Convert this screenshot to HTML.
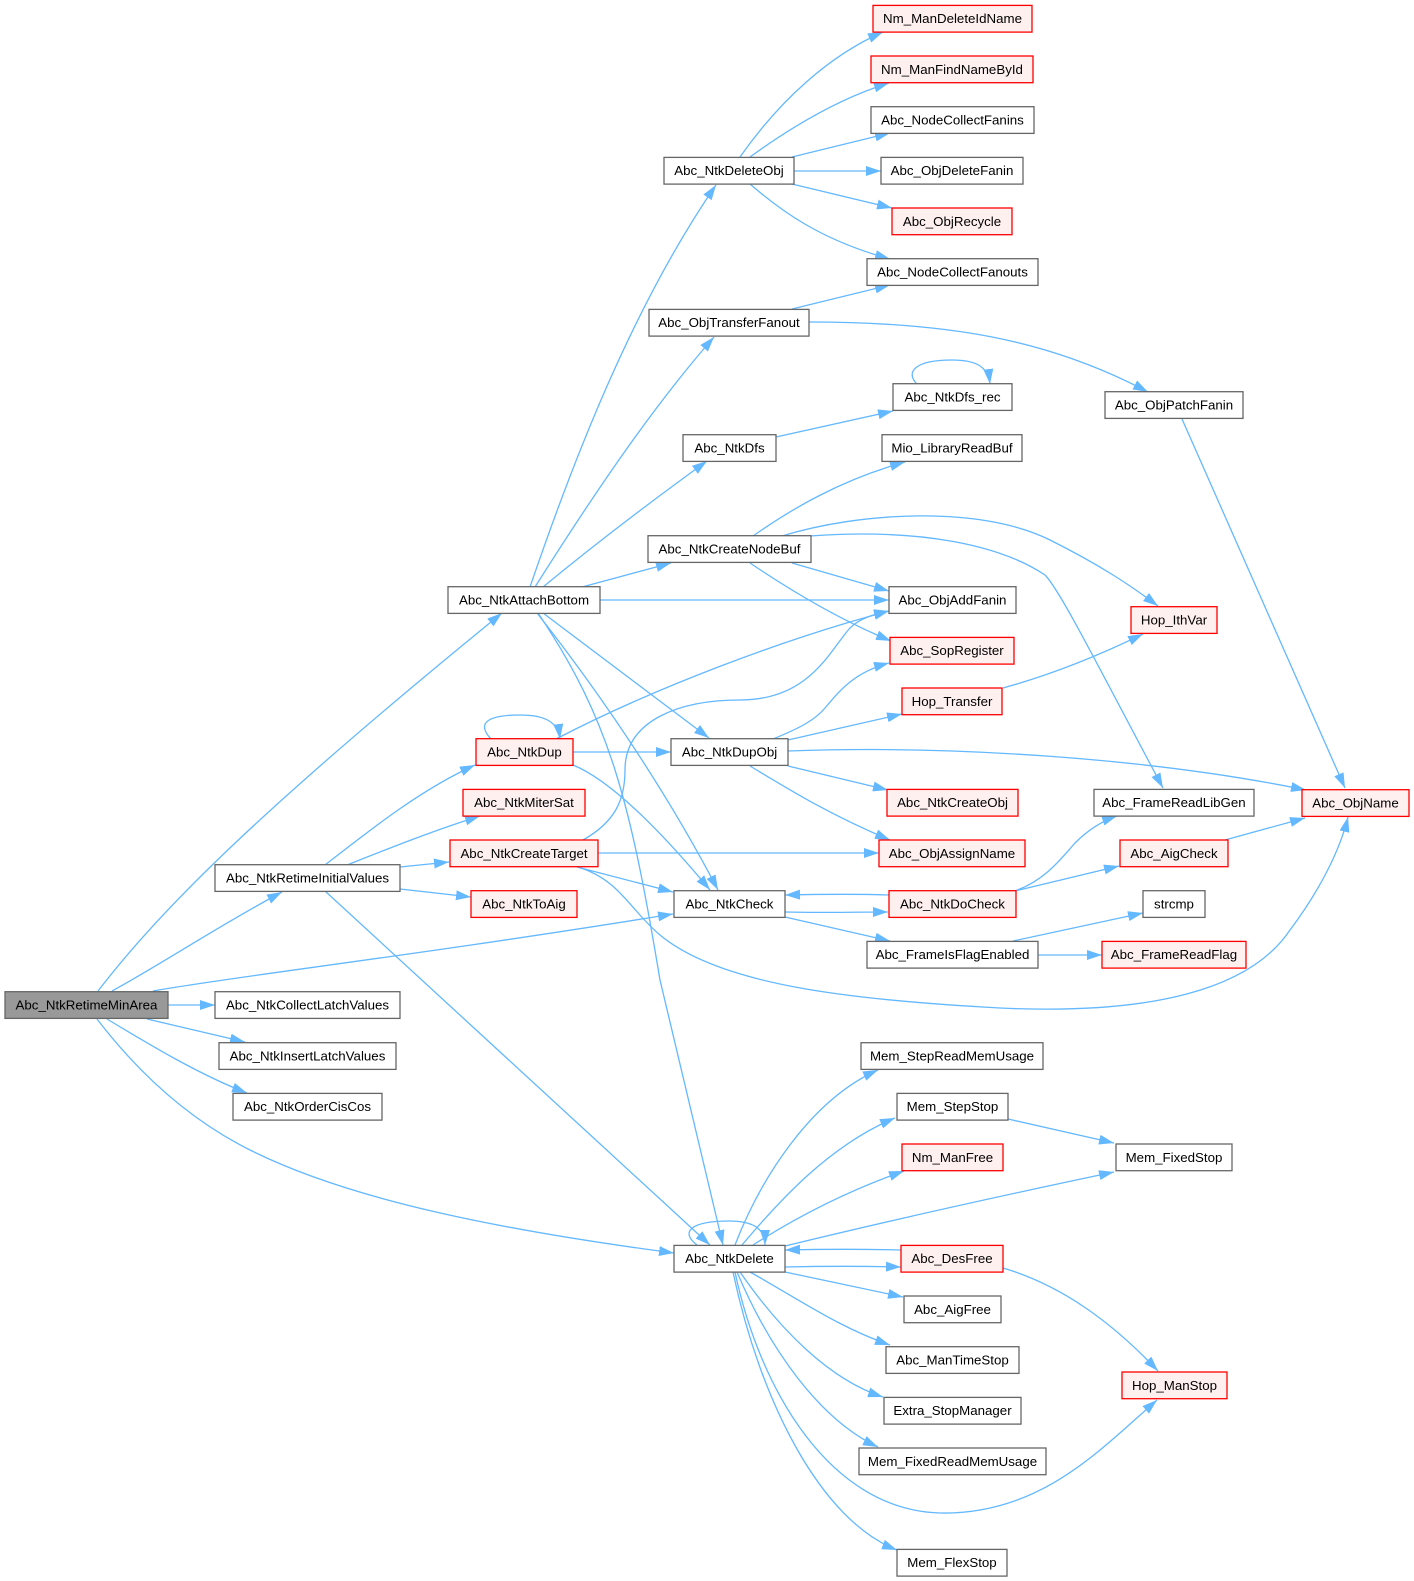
<!DOCTYPE html>
<html><head><meta charset="utf-8"><style>
html,body{margin:0;padding:0;background:#fff;}
svg{display:block;}
text{font-family:"Liberation Sans",Arial,sans-serif;font-size:13.3px;fill:#000;}
.n{fill:#fff;stroke:#666;stroke-width:1.3;}
.r{fill:#fff0f0;stroke:#ff0000;stroke-width:1.3;}
.g{fill:#999;stroke:#666;stroke-width:1.3;}
.e{fill:none;stroke:#63b8ff;stroke-width:1.3;}
</style></head><body>
<svg width="1414" height="1581" viewBox="0 0 1414 1581" xmlns="http://www.w3.org/2000/svg">
<defs><marker id="a" markerUnits="userSpaceOnUse" markerWidth="15" markerHeight="10" refX="15" refY="5" orient="auto"><path d="M0,0 L15,5 L0,10 z" fill="#63b8ff"/></marker></defs>
<g marker-end="url(#a)">
<!-- RMA -->
<path class="e" d="M98,991 C160,910 260,810 502,613"/>
<path class="e" d="M112,991 C160,965 220,925 282,892"/>
<path class="e" d="M153,991 C230,977 420,955 673,914"/>
<path class="e" d="M168,1005 L215,1005"/>
<path class="e" d="M147,1019 L245,1042"/>
<path class="e" d="M107,1019 C150,1045 200,1075 247,1093"/>
<path class="e" d="M97,1019 C140,1075 190,1120 250,1150 C350,1200 500,1230 674,1253"/>
<!-- RIV -->
<path class="e" d="M325,865 C370,830 420,790 475,765"/>
<path class="e" d="M347,865 C390,848 435,830 480,816"/>
<path class="e" d="M400,867 L449,862"/>
<path class="e" d="M400,889 L471,897"/>
<path class="e" d="M325,891 L710,1245"/>
<!-- AttachBottom -->
<path class="e" d="M530,587 C570,470 630,310 716,185"/>
<path class="e" d="M535,587 C590,500 650,410 714,337"/>
<path class="e" d="M543,587 C600,540 660,495 707,461"/>
<path class="e" d="M582,587 L671,563"/>
<path class="e" d="M600,600 L889,600"/>
<path class="e" d="M543,613 L709,738"/>
<path class="e" d="M537,613 C570,655 650,760 718,890"/>
<path class="e" d="M538,613 C610,720 630,800 660,980 L723,1245"/>
<!-- NtkDup -->
<path class="e" d="M491,739 C475,722 490,715 520,715 C545,715 558,722 560,739"/>
<path class="e" d="M556,739 C650,690 780,640 889,611"/>
<path class="e" d="M573,752 L671,752"/>
<path class="e" d="M573,765 C610,780 660,830 710,890"/>
<!-- CreateTarget -->
<path class="e" d="M583,840 C615,822 625,800 625,770 C625,720 680,700 740,700 C810,700 830,650 850,628 C860,618 875,614 889,611"/>
<path class="e" d="M598,853 L879,853"/>
<path class="e" d="M577,867 L673,892"/>
<path class="e" d="M578,867 C620,880 630,910 660,935 C720,985 850,1000 1000,1008 C1150,1015 1250,990 1290,930 C1320,890 1340,850 1348,817"/>
<!-- NtkDeleteObj -->
<path class="e" d="M740,157 C780,100 830,55 883,32"/>
<path class="e" d="M750,157 C790,128 840,98 889,83"/>
<path class="e" d="M792,157 L890,133"/>
<path class="e" d="M794,171 L881,171"/>
<path class="e" d="M792,184 L892,208"/>
<path class="e" d="M750,184 C780,210 820,240 890,259"/>
<!-- TransferFanout -->
<path class="e" d="M792,309 L890,285"/>
<path class="e" d="M809,322 C950,322 1050,340 1148,392"/>
<!-- NtkDfs -->
<path class="e" d="M776,437 L893,411"/>
<path class="e" d="M917,384 C905,372 915,360 952,360 C975,360 988,366 990,384"/>
<!-- PatchFanin -->
<path class="e" d="M1182,419 L1345,788"/>
<!-- CreateNodeBuf -->
<path class="e" d="M753,536 C790,510 840,480 905,462"/>
<path class="e" d="M782,536 C860,512 980,505 1050,540 C1100,565 1130,585 1158,606"/>
<path class="e" d="M810,536 C920,528 1000,545 1045,575 C1060,590 1100,670 1163,788"/>
<path class="e" d="M792,563 L889,591"/>
<path class="e" d="M750,563 C790,590 840,620 891,641"/>
<!-- NtkDupObj -->
<path class="e" d="M773,739 C800,728 815,720 825,708 C840,690 855,672 889,663"/>
<path class="e" d="M788,740 L902,714"/>
<path class="e" d="M788,751 C950,745 1150,758 1306,790"/>
<path class="e" d="M788,766 L888,790"/>
<path class="e" d="M750,766 C790,790 830,815 890,840"/>
<!-- NtkCheck / DoCheck -->
<path class="e" d="M785,912 C820,913 850,912 888,912"/>
<path class="e" d="M889,895 C860,894 830,894 785,895"/>
<path class="e" d="M785,917 L890,941"/>
<path class="e" d="M1015,891 C1045,880 1060,860 1075,843 C1090,828 1105,820 1117,816"/>
<path class="e" d="M1015,891 L1119,866"/>
<path class="e" d="M1013,941 L1143,913"/>
<path class="e" d="M1038,955 L1102,955"/>
<path class="e" d="M1225,840 L1305,818"/>
<path class="e" d="M1003,688 C1050,675 1100,655 1143,634"/>
<!-- NtkDelete -->
<path class="e" d="M697,1245 C680,1232 690,1221 730,1221 C755,1221 765,1230 765,1245"/>
<path class="e" d="M735,1245 C760,1180 810,1100 878,1070"/>
<path class="e" d="M742,1245 C780,1200 830,1145 895,1118"/>
<path class="e" d="M753,1245 C800,1215 850,1190 904,1171"/>
<path class="e" d="M785,1246 C900,1218 1000,1196 1114,1172"/>
<path class="e" d="M901,1250 C860,1249 830,1249 785,1250"/>
<path class="e" d="M785,1267 C830,1266 860,1266 901,1267"/>
<path class="e" d="M785,1272 L903,1297"/>
<path class="e" d="M750,1272 C800,1300 840,1328 890,1345"/>
<path class="e" d="M740,1272 C780,1330 830,1380 883,1397"/>
<path class="e" d="M737,1272 C770,1350 820,1420 878,1447"/>
<path class="e" d="M735,1272 C760,1390 830,1510 940,1513 C1040,1515 1100,1450 1157,1400"/>
<path class="e" d="M733,1272 C760,1400 820,1520 897,1550"/>
<path class="e" d="M1008,1119 L1114,1143"/>
<path class="e" d="M1003,1268 C1060,1285 1110,1320 1158,1371"/>
</g>
<!-- nodes -->
<rect class="g" x="5" y="991.7" width="163" height="26.7"/><text x="86.5" y="1009.5" text-anchor="middle">Abc_NtkRetimeMinArea</text>
<rect class="n" x="215" y="864.7" width="185" height="26.7"/><text x="307.5" y="882.5" text-anchor="middle">Abc_NtkRetimeInitialValues</text>
<rect class="n" x="215" y="991.7" width="185" height="26.7"/><text x="307.5" y="1009.5" text-anchor="middle">Abc_NtkCollectLatchValues</text>
<rect class="n" x="219" y="1042.7" width="177" height="26.7"/><text x="307.5" y="1060.5" text-anchor="middle">Abc_NtkInsertLatchValues</text>
<rect class="n" x="233" y="1093.4" width="149" height="26.7"/><text x="307.5" y="1111.2" text-anchor="middle">Abc_NtkOrderCisCos</text>
<rect class="n" x="448" y="586.7" width="152" height="26.7"/><text x="524" y="604.5" text-anchor="middle">Abc_NtkAttachBottom</text>
<rect class="r" x="476" y="738.7" width="97" height="26.7"/><text x="524.5" y="756.5" text-anchor="middle">Abc_NtkDup</text>
<rect class="r" x="463" y="789.4" width="122" height="26.7"/><text x="524" y="807.2" text-anchor="middle">Abc_NtkMiterSat</text>
<rect class="r" x="450" y="840" width="148" height="26.7"/><text x="524" y="857.8" text-anchor="middle">Abc_NtkCreateTarget</text>
<rect class="r" x="471" y="890.7" width="106" height="26.7"/><text x="524" y="908.5" text-anchor="middle">Abc_NtkToAig</text>
<rect class="n" x="664" y="157.4" width="130" height="26.7"/><text x="729" y="175.2" text-anchor="middle">Abc_NtkDeleteObj</text>
<rect class="n" x="649" y="309.4" width="160" height="26.7"/><text x="729" y="327.2" text-anchor="middle">Abc_ObjTransferFanout</text>
<rect class="n" x="683" y="434.7" width="93" height="26.7"/><text x="729.5" y="452.5" text-anchor="middle">Abc_NtkDfs</text>
<rect class="n" x="648" y="535.7" width="163" height="26.7"/><text x="729.5" y="553.5" text-anchor="middle">Abc_NtkCreateNodeBuf</text>
<rect class="n" x="671" y="738.7" width="117" height="26.7"/><text x="729.5" y="756.5" text-anchor="middle">Abc_NtkDupObj</text>
<rect class="n" x="674" y="890.7" width="111" height="26.7"/><text x="729.5" y="908.5" text-anchor="middle">Abc_NtkCheck</text>
<rect class="n" x="674" y="1245.4" width="111" height="26.7"/><text x="729.5" y="1263.2" text-anchor="middle">Abc_NtkDelete</text>
<rect class="r" x="873" y="5.4" width="159" height="26.7"/><text x="952.5" y="23.2" text-anchor="middle">Nm_ManDeleteIdName</text>
<rect class="r" x="871" y="56" width="162" height="26.7"/><text x="952" y="73.8" text-anchor="middle">Nm_ManFindNameById</text>
<rect class="n" x="871" y="106.7" width="163" height="26.7"/><text x="952.5" y="124.5" text-anchor="middle">Abc_NodeCollectFanins</text>
<rect class="n" x="881" y="157.4" width="142" height="26.7"/><text x="952" y="175.2" text-anchor="middle">Abc_ObjDeleteFanin</text>
<rect class="r" x="892" y="208" width="120" height="26.7"/><text x="952" y="225.8" text-anchor="middle">Abc_ObjRecycle</text>
<rect class="n" x="867" y="258.7" width="171" height="26.7"/><text x="952.5" y="276.5" text-anchor="middle">Abc_NodeCollectFanouts</text>
<rect class="n" x="893" y="383.7" width="119" height="26.7"/><text x="952.5" y="401.5" text-anchor="middle">Abc_NtkDfs_rec</text>
<rect class="n" x="882" y="434.7" width="140" height="26.7"/><text x="952" y="452.5" text-anchor="middle">Mio_LibraryReadBuf</text>
<rect class="n" x="889" y="586.7" width="127" height="26.7"/><text x="952.5" y="604.5" text-anchor="middle">Abc_ObjAddFanin</text>
<rect class="r" x="890" y="637.4" width="124" height="26.7"/><text x="952" y="655.2" text-anchor="middle">Abc_SopRegister</text>
<rect class="r" x="902" y="688" width="100" height="26.7"/><text x="952" y="705.8" text-anchor="middle">Hop_Transfer</text>
<rect class="r" x="887" y="789.4" width="131" height="26.7"/><text x="952.5" y="807.2" text-anchor="middle">Abc_NtkCreateObj</text>
<rect class="r" x="879" y="840" width="146" height="26.7"/><text x="952" y="857.8" text-anchor="middle">Abc_ObjAssignName</text>
<rect class="r" x="889" y="890.7" width="127" height="26.7"/><text x="952.5" y="908.5" text-anchor="middle">Abc_NtkDoCheck</text>
<rect class="n" x="867" y="941.4" width="171" height="26.7"/><text x="952.5" y="959.2" text-anchor="middle">Abc_FrameIsFlagEnabled</text>
<rect class="n" x="861" y="1042.7" width="182" height="26.7"/><text x="952" y="1060.5" text-anchor="middle">Mem_StepReadMemUsage</text>
<rect class="n" x="897" y="1093.4" width="111" height="26.7"/><text x="952.5" y="1111.2" text-anchor="middle">Mem_StepStop</text>
<rect class="r" x="902" y="1144" width="101" height="26.7"/><text x="952.5" y="1161.8" text-anchor="middle">Nm_ManFree</text>
<rect class="r" x="901" y="1245.4" width="102" height="26.7"/><text x="952" y="1263.2" text-anchor="middle">Abc_DesFree</text>
<rect class="n" x="904" y="1296" width="97" height="26.7"/><text x="952.5" y="1313.8" text-anchor="middle">Abc_AigFree</text>
<rect class="n" x="886" y="1346.7" width="133" height="26.7"/><text x="952.5" y="1364.5" text-anchor="middle">Abc_ManTimeStop</text>
<rect class="n" x="884" y="1397.4" width="137" height="26.7"/><text x="952.5" y="1415.2" text-anchor="middle">Extra_StopManager</text>
<rect class="n" x="859" y="1448" width="187" height="26.7"/><text x="952.5" y="1465.8" text-anchor="middle">Mem_FixedReadMemUsage</text>
<rect class="n" x="897" y="1549.4" width="110" height="26.7"/><text x="952" y="1567.2" text-anchor="middle">Mem_FlexStop</text>
<rect class="n" x="1105" y="391.7" width="138" height="26.7"/><text x="1174" y="409.5" text-anchor="middle">Abc_ObjPatchFanin</text>
<rect class="r" x="1131" y="606.7" width="86" height="26.7"/><text x="1174" y="624.5" text-anchor="middle">Hop_IthVar</text>
<rect class="n" x="1094" y="789.4" width="160" height="26.7"/><text x="1174" y="807.2" text-anchor="middle">Abc_FrameReadLibGen</text>
<rect class="r" x="1120" y="840" width="108" height="26.7"/><text x="1174" y="857.8" text-anchor="middle">Abc_AigCheck</text>
<rect class="n" x="1143" y="890.7" width="62" height="26.7"/><text x="1174" y="908.5" text-anchor="middle">strcmp</text>
<rect class="r" x="1102" y="941.4" width="144" height="26.7"/><text x="1174" y="959.2" text-anchor="middle">Abc_FrameReadFlag</text>
<rect class="n" x="1116" y="1144" width="116" height="26.7"/><text x="1174" y="1161.8" text-anchor="middle">Mem_FixedStop</text>
<rect class="r" x="1122" y="1372" width="105" height="26.7"/><text x="1174.5" y="1389.8" text-anchor="middle">Hop_ManStop</text>
<rect class="r" x="1302" y="789.7" width="107" height="26.7"/><text x="1355.5" y="807.5" text-anchor="middle">Abc_ObjName</text>
</svg>
</body></html>
